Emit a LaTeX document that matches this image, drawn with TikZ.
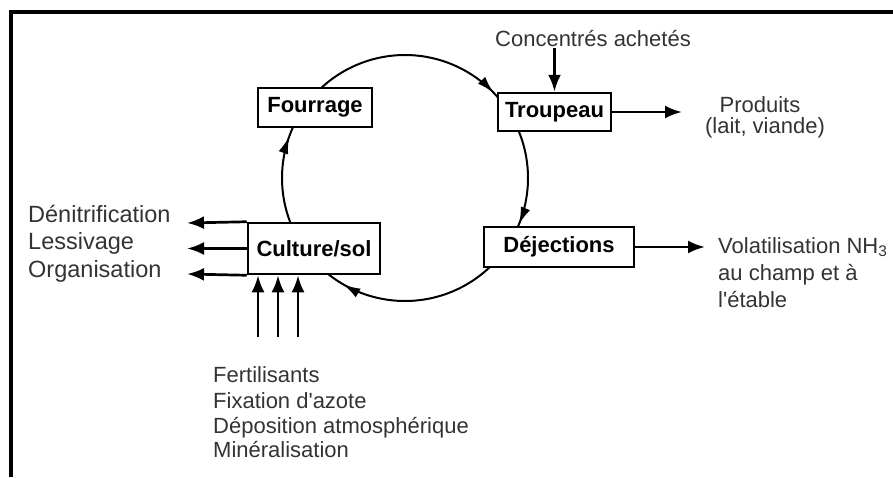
\documentclass[tikz,border=0pt]{standalone}
\usepackage{fontspec}
\setmainfont{Liberation Sans}
\usetikzlibrary{arrows.meta,decorations.markings}
\begin{document}
\begin{tikzpicture}[x=1pt,y=-1pt,
  box/.style={draw=black,line width=2.5pt,fill=white,inner sep=0pt,
    font=\fontsize{22}{26}\selectfont\bfseries},
  lbl/.style={inner sep=0pt,text=black!80,font=\fontsize{22}{26}\selectfont},
  lblbig/.style={inner sep=0pt,text=black!80,font=\fontsize{23.5}{28}\selectfont},
  flow/.style={line width=2.7pt,-{Latex[length=17pt,width=13pt]}},
  ring/.style={line width=2pt},
  ringarrow/.style={postaction={decorate},decoration={markings,
    mark=at position #1 with {\arrow{Latex[length=17pt,width=10pt]}}}}
]
\useasboundingbox (0,0) rectangle (893,477);
% frame
\coordinate (fbl) at (11,477);
\coordinate (ftl) at (11,12);
\coordinate (ftr) at (893,12);
\draw[line width=4.5pt] (fbl) -- (ftl) -- (ftr);

% cycle
\coordinate (ctr) at (405,178);
\draw[ring,ringarrow=0.728] ([shift={(-215:123)}]ctr) arc[start angle=-215,end angle=-140,radius=123];
\draw[ring,ringarrow=0.96] ([shift={(-140:123)}]ctr) arc[start angle=-140,end angle=-40,radius=123];
\draw[ring,ringarrow=0.886] ([shift={(-40:123)}]ctr) arc[start angle=-40,end angle=30,radius=123];
\draw[ring,ringarrow=0.783] ([shift={(30:123)}]ctr) arc[start angle=30,end angle=145,radius=123];

% boxes
\node[box,minimum width=114pt,minimum height=39pt] (four) at (315,107.5) {Fourrage};
\node[box,minimum width=113pt,minimum height=38pt] (trp) at (554.5,112) {Troupeau};
\node[box,minimum width=150pt,minimum height=40pt] (dej) at (559,247) {Déjections};
\node[box,minimum width=132pt,minimum height=51pt] (cul) at (314,248.5) {Culture/sol};

% Concentrés
\node[lbl,anchor=base] (conc) at (593,46) {Concentrés achetés};
\coordinate (cin) at (554.5,48);
\draw[flow] (cin) -- (trp.north);

% Produits
\coordinate (pend) at (682,112);
\draw[flow] (trp.east) -- (pend);
\node[lbl,anchor=base] (prod1) at (760,112) {Produits};
\node[lbl,anchor=base] (prod2) at (765,133) {(lait, viande)};

% Volatilisation
\coordinate (vend) at (705,247);
\draw[flow] (dej.east) -- (vend);
\node[lbl,anchor=base west] (vol1) at (718,253) {Volatilisation NH\textsubscript{3}};
\node[lbl,anchor=base west] (vol2) at (718,280) {au champ et à};
\node[lbl,anchor=base west] (vol3) at (718,307) {l\textquotesingle étable};

% losses
\coordinate (l1) at (187,223);
\coordinate (l2) at (187,248.5);
\coordinate (l3) at (187,274);
\draw[flow] (cul.north west) -- (l1);
\draw[flow] (cul.west) -- (l2);
\draw[flow] (cul.south west) -- (l3);
\node[lblbig,anchor=base west] (den) at (28,222) {Dénitrification};
\node[lblbig,anchor=base west] (les) at (28,249.5) {Lessivage};
\node[lblbig,anchor=base west] (org) at (28,277) {Organisation};

% inputs
\coordinate (u1) at (258,337);
\coordinate (u2) at (278,337);
\coordinate (u3) at (298,337);
\draw[flow] (u1) -- (u1 |- cul.south);
\draw[flow] (u2) -- (u2 |- cul.south);
\draw[flow] (u3) -- (u3 |- cul.south);
\node[lbl,anchor=base west] (in1) at (213,382) {Fertilisants};
\node[lbl,anchor=base west] (in2) at (213,408) {Fixation d\textquotesingle azote};
\node[lbl,anchor=base west] (in3) at (213,433) {Déposition atmosphérique};
\node[lbl,anchor=base west] (in4) at (213,457) {Minéralisation};
\end{tikzpicture}
\end{document}
